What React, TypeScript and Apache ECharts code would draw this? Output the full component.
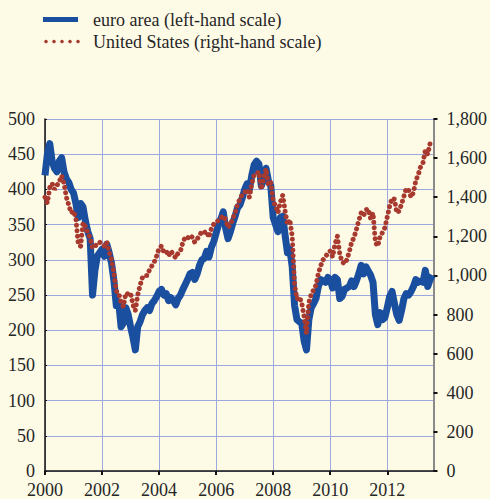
import React, { useEffect, useRef } from "react";
import * as echarts from "echarts";

const START_YEAR = 2000;
const X_MAX = 2013.62;
const xTickLabels = [2000, 2002, 2004, 2006, 2008, 2010, 2012];

// euro area (left-hand scale), monthly, Jan 2000 - Aug 2013
const euroArea = [
  420, 450, 465, 440, 430, 425, 440, 445, 425, 415, 410, 400,
  395, 380, 360, 380, 375, 355, 340, 330, 250, 285, 305, 310,
  315, 305, 322, 310, 295, 270, 235, 240, 205, 210, 232, 222,
  205, 190, 172, 205, 212, 222, 228, 232, 228, 238, 242, 248,
  255, 258, 250, 252, 242, 246, 242, 236, 245, 250, 258, 265,
  272, 280, 282, 272, 280, 292, 300, 302, 312, 304, 318, 326,
  338, 350, 358, 368, 345, 330, 340, 352, 362, 374, 378, 388,
  400, 408, 400, 420, 435, 440, 436, 405, 415, 430, 412, 405,
  360, 350, 340, 360, 362, 335, 310, 315, 290, 235, 215, 212,
  210, 185, 172, 215, 232, 238, 245, 262, 272, 270, 268, 275,
  272, 260, 275, 272, 245, 248, 258, 260, 262, 270, 262, 270,
  280, 292, 280, 290, 284, 278, 268, 222, 208, 225, 215, 218,
  232, 248, 255, 238, 222, 214, 228, 245, 252, 250, 255, 262,
  272, 268, 270, 268, 285, 262, 272, 278,
];

// United States (right-hand scale), monthly, Jan 2000 - Aug 2013
const unitedStates = [
  1400, 1370, 1450, 1470, 1440, 1460, 1480, 1510, 1470, 1400, 1360, 1320,
  1330, 1290, 1160, 1150, 1270, 1250, 1220, 1190, 1140, 1150, 1160, 1170,
  1160, 1150, 1170, 1120, 1080, 1010, 920, 910, 860, 840, 910, 905,
  910, 850, 820, 900, 950, 990, 1000, 1000, 1030, 1050, 1070, 1100,
  1140, 1150, 1120, 1125, 1100, 1125, 1105, 1090, 1115, 1125, 1170, 1195,
  1190, 1205, 1195, 1170, 1185, 1205, 1225, 1220, 1225, 1195, 1240, 1262,
  1275, 1280, 1295, 1305, 1285, 1245, 1260, 1290, 1320, 1365, 1390, 1415,
  1425, 1440, 1400, 1470, 1515, 1520, 1530, 1440, 1500, 1545, 1460, 1475,
  1380, 1355, 1320, 1375, 1410, 1330, 1260, 1285, 1200, 950, 880, 890,
  860, 790, 705, 860, 905, 925, 950, 1010, 1050, 1080, 1095, 1115,
  1125, 1095, 1160, 1200, 1110, 1070, 1060, 1080, 1120, 1170, 1195, 1235,
  1280, 1320, 1305, 1335, 1340, 1290, 1320, 1170, 1150, 1200, 1220, 1245,
  1300, 1355, 1395, 1390, 1320, 1330, 1365, 1405, 1445, 1435, 1400, 1425,
  1485, 1515, 1555, 1575, 1640, 1620, 1675, 1690,
];

const legendLabels = ["euro area (left-hand scale)", "United States (right-hand scale)"];

const BLUE = "#1a4e9f";
const RED = "#a8392f";
const GRID = "#9ea8e0";
const TEXT = "#262626";
const FONT = "Liberation Serif";

export default function App() {
  const ref = useRef<HTMLDivElement>(null);

  useEffect(() => {
    document.body.style.margin = "0";
    if (!ref.current) return;
    const chart = echarts.init(ref.current, undefined, { renderer: "svg" });
    const toX = (i: number) => START_YEAR + i / 12;

    chart.setOption({
      animation: false,
      backgroundColor: "#fdfbe6",
      textStyle: { fontFamily: FONT },
      grid: { left: 45, right: 52, top: 119, bottom: 24, containLabel: false },
      xAxis: {
        type: "value",
        min: START_YEAR,
        max: X_MAX,
        interval: 2,
        axisLine: { show: true, lineStyle: { color: "#111", width: 1.5 } },
        axisTick: { show: true, length: 4, lineStyle: { color: "#111", width: 2 } },
        axisLabel: {
          fontSize: 18,
          color: TEXT,
          fontFamily: FONT,
          margin: 10,
          showMaxLabel: false,
          formatter: (v: number) => {
            const r = Math.round(v);
            return Math.abs(v - r) < 1e-6 && xTickLabels.includes(r) ? String(r) : "";
          },
        },
        splitLine: { show: true, lineStyle: { color: GRID, width: 1 } },
      },
      yAxis: [
        {
          type: "value",
          min: 0,
          max: 500,
          interval: 50,
          position: "left",
          axisLine: { show: true, lineStyle: { color: "#111", width: 1.5 } },
          axisTick: { show: true, inside: true, length: 2, lineStyle: { color: "#111" } },
          axisLabel: { fontSize: 18, color: TEXT, fontFamily: FONT, margin: 10 },
          splitLine: { show: true, lineStyle: { color: GRID, width: 1 } },
        },
        {
          type: "value",
          min: 0,
          max: 1800,
          interval: 200,
          position: "right",
          axisLine: { show: true, lineStyle: { color: "#8a8a8a", width: 2 } },
          axisTick: { show: true, length: 4, lineStyle: { color: "#111", width: 2 } },
          axisLabel: {
            fontSize: 18,
            color: TEXT,
            fontFamily: FONT,
            margin: 13,
            formatter: (v: number) => v.toLocaleString("en-US"),
          },
          splitLine: { show: false },
        },
      ],
      series: [
        {
          name: legendLabels[0],
          type: "line",
          yAxisIndex: 0,
          showSymbol: false,
          data: euroArea.map((v, i) => [toX(i), v]),
          lineStyle: { color: BLUE, width: 7, join: "round" },
          z: 3,
        },
        {
          name: legendLabels[1],
          type: "line",
          yAxisIndex: 1,
          showSymbol: false,
          data: unitedStates.map((v, i) => [toX(i), v]),
          lineStyle: { color: RED, width: 5, type: [0.01, 5.5], cap: "round" },
          z: 4,
        },
      ],
      graphic: [
        {
          type: "line",
          shape: { x1: 43, y1: 19.5, x2: 78, y2: 19.5 },
          style: { stroke: BLUE, lineWidth: 5 },
        },
        {
          type: "text",
          x: 93,
          y: 19.5,
          style: {
            text: legendLabels[0],
            fontSize: 18,
            fontFamily: FONT,
            fill: TEXT,
            verticalAlign: "middle",
          },
        },
        ...[46, 54, 62, 70, 78].map((cx) => ({
          type: "circle",
          shape: { cx, cy: 41.5, r: 1.8 },
          style: { fill: RED },
        })),
        {
          type: "text",
          x: 93,
          y: 41.5,
          style: {
            text: legendLabels[1],
            fontSize: 18,
            fontFamily: FONT,
            fill: TEXT,
            verticalAlign: "middle",
          },
        },
      ],
    });

    return () => chart.dispose();
  }, []);

  return <div ref={ref} style={{ width: 490, height: 499 }} />;
}
